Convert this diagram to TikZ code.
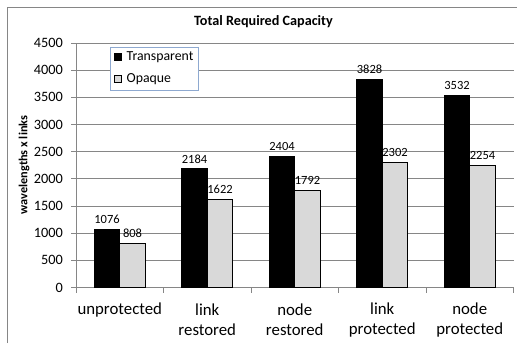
\documentclass[tikz,border=0pt]{standalone}
\usepackage{fontspec}
\setmainfont{Carlito}
\definecolor{gridc}{HTML}{868686}
\definecolor{opq}{HTML}{D9D9D9}
\definecolor{legc}{HTML}{8EA9D0}
\tikzset{
  tbar/.style={draw=black, fill=black, line width=0.8pt},
  obar/.style={draw=black, fill=opq, line width=0.8pt},
  vlab/.style={font=\fontsize{12.5}{13}\selectfont, inner sep=0pt},
  ylab/.style={font=\fontsize{14.3}{15}\selectfont, anchor=east, inner sep=0pt},
  clab/.style={font=\fontsize{16.8}{20}\selectfont, align=center, inner sep=0pt},
  legt/.style={font=\fontsize{13.8}{14}\selectfont, anchor=west, inner sep=0pt},
  gridl/.style={draw=gridc, line width=0.9pt},
}
\begin{document}
\begin{tikzpicture}[x=1pt,y=-1pt]
\useasboundingbox (0,0) rectangle (517,343);
% frame
\draw[gridc, line width=1pt] (7,343) -- (7,7) -- (517,7);
% title
\node[font=\bfseries\fontsize{14.2}{16}\selectfont, inner sep=0pt] (title) at (263.5,22) {Total Required Capacity};
% grid and y labels
\foreach \v [count=\i from 0] in {0,500,...,4500}{
  \pgfmathsetmacro{\yy}{287.5-\v*0.05433}
  \ifnum\i>0
    \draw[gridl] (76,\yy) -- (513.5,\yy);
  \fi
  \draw[gridl] (71,\yy) -- (76,\yy);
  \node[ylab] (yl\i) at (63,\yy) {\v};
}
% axes
\draw[gridl] (76,43) -- (76,287.5);
\draw[gridl] (76,287.5) -- (513.5,287.5);
\foreach \k in {0,...,5}{
  \draw[gridl] ({76+87.5*\k},287.5) -- ({76+87.5*\k},293);
}
% y axis label
\node[font=\bfseries\fontsize{12.3}{14}\selectfont, rotate=90, inner sep=0pt] (yaxis) at (24,165) {wavelengths x links};
% bars
\foreach \t/\o [count=\i from 0] in {1076/808,2184/1622,2404/1792,3828/2302,3532/2254}{
  \pgfmathsetmacro{\xa}{76+87.5*\i+18.3}
  \pgfmathsetmacro{\xb}{\xa+25.5}
  \pgfmathsetmacro{\xc}{\xb+25.5}
  \pgfmathsetmacro{\yt}{287.5-\t*0.05433}
  \pgfmathsetmacro{\yo}{287.5-\o*0.05433}
  \draw[tbar] (\xa,287.5) rectangle (\xb,\yt);
  \draw[obar] (\xb,287.5) rectangle (\xc,\yo);
  \node[vlab] (vt\i) at ({(\xa+\xb)/2},{\yt-10}) {\t};
  \node[vlab] (vo\i) at ({(\xb+\xc)/2},{\yo-10}) {\o};
}
% category labels
\node[clab] (c0) at (119.75,310) {unprotected};
\node[clab] (c1) at (207.25,320) {link\\restored};
\node[clab] (c2) at (294.75,320) {node\\restored};
\node[clab] (c3) at (382.25,320) {link\\protected};
\node[clab] (c4) at (469.75,320) {node\\protected};
% legend
\draw[legc, fill=white, line width=0.9pt] (110,47.3) rectangle (198.7,90);
\draw[tbar, line width=0.6pt] (114.5,53.5) rectangle (121.5,60.5);
\draw[obar, line width=0.6pt] (114.5,75.5) rectangle (121.5,82.5);
\node[legt] (lt) at (126.5,57.3) {Transparent};
\node[legt] (lo) at (126.5,79) {Opaque};
\end{tikzpicture}
\end{document}
